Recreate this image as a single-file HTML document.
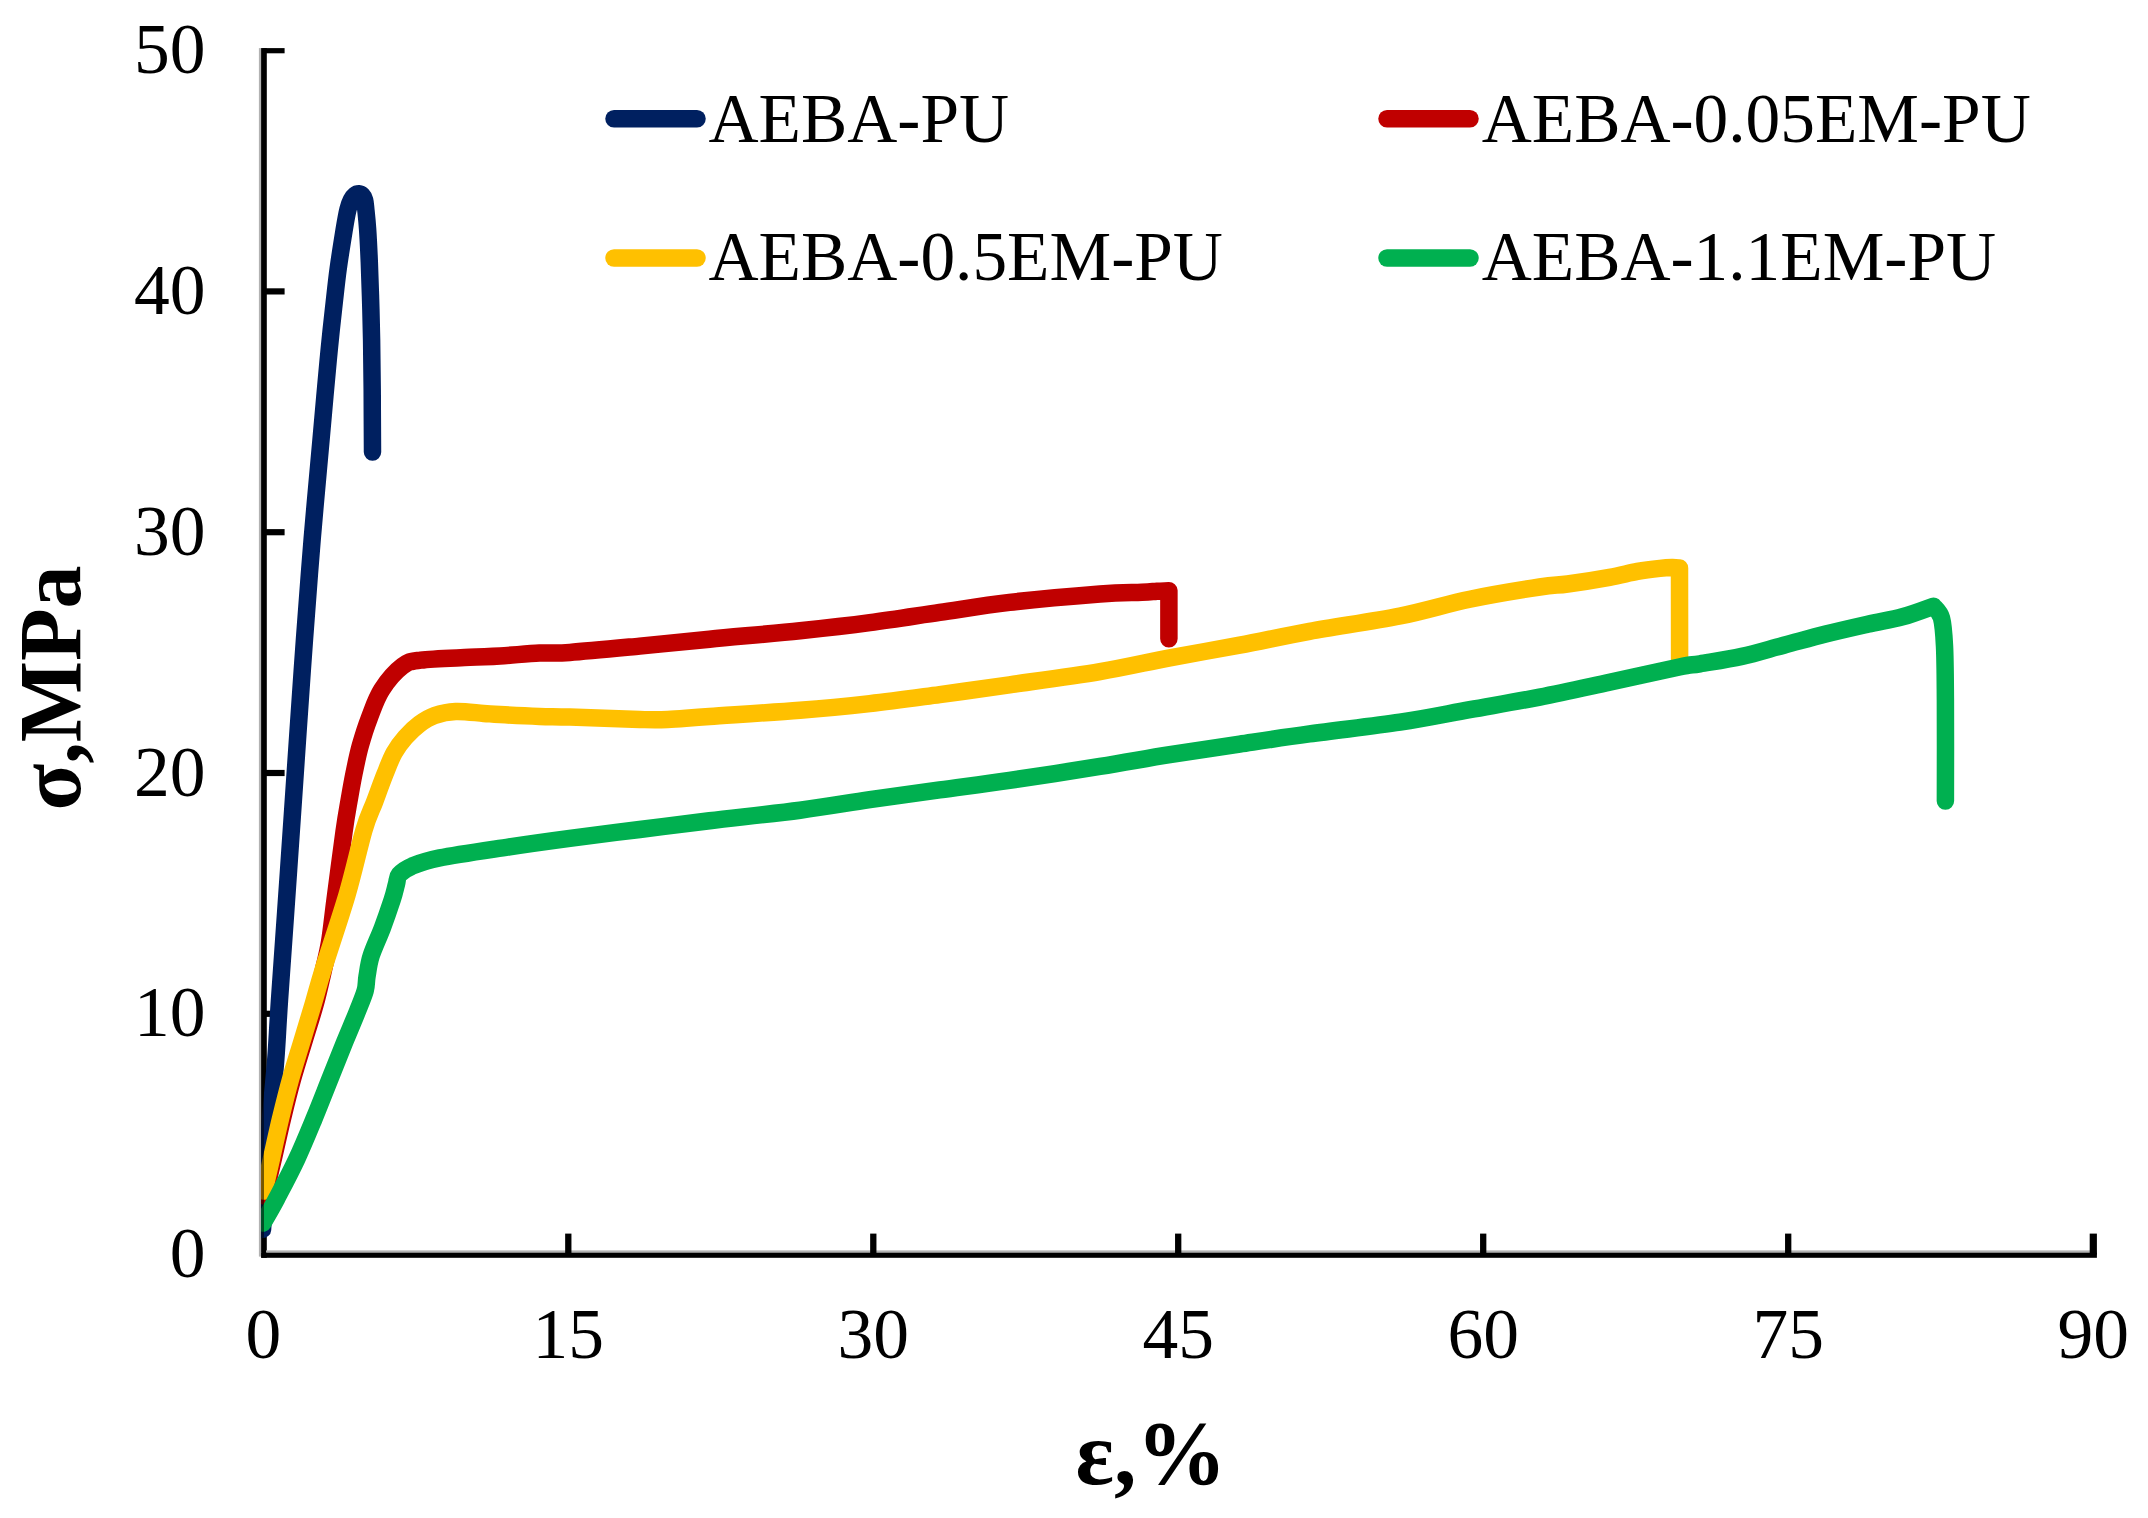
<!DOCTYPE html>
<html lang="en"><head><meta charset="utf-8"><title>Stress-strain curves</title>
<style>html,body{margin:0;padding:0;background:#fff}body{width:2148px;height:1518px;overflow:hidden}svg{display:block}text{font-family:"Liberation Serif","Times New Roman",serif;fill:#000}</style></head><body>
<svg width="2148" height="1518" viewBox="0 0 2148 1518">
<rect width="2148" height="1518" fill="#fff"/>
<defs><clipPath id="plot"><rect x="261.2" y="0" width="1900" height="1258"/></clipPath></defs>
<g fill="#000" stroke="none">
<rect x="258.9" y="48.1" width="2.4" height="1208.5" fill="#b2b2b2"/>
<rect x="261.2" y="48.1" width="5.6" height="1209.7"/>
<rect x="266" y="1250.4" width="1830.9" height="2.4" fill="#b2b2b2"/>
<rect x="261.2" y="1252.7" width="1835.7" height="5.1"/>
</g>
<g stroke="#000" fill="none">
<line x1="263.3" y1="50.7" x2="284.6" y2="50.7" stroke-width="5.2"/>
<line x1="263.3" y1="291.4" x2="284.6" y2="291.4" stroke-width="6.2"/>
<line x1="263.3" y1="532.2" x2="284.6" y2="532.2" stroke-width="6.2"/>
<line x1="263.3" y1="773.0" x2="284.6" y2="773.0" stroke-width="6.2"/>
<line x1="263.3" y1="1013.8" x2="284.6" y2="1013.8" stroke-width="6.2"/>
<line x1="568.3" y1="1233.6" x2="568.3" y2="1254.6" stroke-width="6.3"/>
<line x1="873.3" y1="1233.6" x2="873.3" y2="1254.6" stroke-width="6.3"/>
<line x1="1178.2" y1="1233.6" x2="1178.2" y2="1254.6" stroke-width="6.3"/>
<line x1="1483.2" y1="1233.6" x2="1483.2" y2="1254.6" stroke-width="6.3"/>
<line x1="1788.2" y1="1233.6" x2="1788.2" y2="1254.6" stroke-width="6.3"/>
<line x1="2093.3" y1="1233.6" x2="2093.3" y2="1254.6" stroke-width="7.2"/>
</g>
<g clip-path="url(#plot)" fill="none" stroke-width="17.5" stroke-linecap="round" stroke-linejoin="round">
<path stroke="#002060" d="M262.5,1229.5 C263.9,1211.0 268.4,1147.0 270.6,1118.6 C272.8,1090.2 274.3,1078.8 275.8,1059.0 C277.3,1039.2 277.4,1031.5 279.5,1000.0 C281.6,968.5 285.6,914.2 288.6,870.0 C291.7,825.8 295.1,773.7 297.8,735.0 C300.5,696.3 302.2,670.3 304.6,637.6 C307.0,604.9 309.5,571.7 312.2,538.8 C314.9,505.9 318.8,465.3 321.0,440.0 C323.2,414.7 324.3,402.6 325.7,387.2 C327.1,371.8 328.1,360.8 329.4,347.6 C330.7,334.4 332.1,321.3 333.6,308.1 C335.1,294.9 336.4,281.8 338.2,268.6 C340.0,255.4 342.7,238.9 344.3,229.0 C345.9,219.1 346.8,214.1 348.0,209.3 C349.2,204.5 350.1,202.3 351.3,200.0 C352.5,197.7 353.8,196.2 355.0,195.2 C356.2,194.2 357.6,193.8 358.8,193.8 C360.0,193.9 361.3,194.5 362.3,195.5 C363.3,196.5 364.0,197.7 364.6,200.0 C365.2,202.3 365.3,204.5 365.8,209.3 C366.3,214.1 367.0,220.2 367.6,229.0 C368.2,237.8 368.8,250.2 369.3,262.0 C369.8,273.8 370.2,287.0 370.6,300.0 C371.0,313.0 371.3,325.0 371.6,340.0 C371.9,355.0 372.1,371.3 372.2,390.0 C372.3,408.7 372.4,441.7 372.5,452.0"/>
<path stroke="#C00000" d="M264.5,1196.0 C266.0,1189.7 270.5,1170.9 273.5,1158.0 C276.5,1145.1 279.3,1131.8 282.5,1118.6 C285.7,1105.4 288.9,1092.2 292.6,1079.0 C296.3,1065.8 300.8,1051.8 304.5,1039.5 C308.2,1027.2 311.8,1016.6 315.0,1005.0 C318.2,993.4 321.1,980.2 323.5,969.7 C325.9,959.2 327.7,953.4 329.6,941.7 C331.5,930.1 332.6,918.1 335.0,899.8 C337.4,881.5 341.7,848.4 344.0,832.0 C346.3,815.6 347.2,811.3 348.9,801.6 C350.6,791.9 352.1,782.9 354.0,773.6 C355.9,764.3 357.7,755.0 360.3,745.7 C362.9,736.4 365.8,727.1 369.4,717.8 C373.0,708.5 376.2,698.4 381.7,689.8 C387.2,681.2 396.1,671.0 402.6,666.1 C409.1,661.2 409.6,661.6 420.8,660.1 C432.0,658.6 456.5,658.0 469.7,657.3 C482.9,656.6 488.4,656.6 500.0,655.9 C511.6,655.2 527.9,653.7 539.5,653.1 C551.1,652.5 553.1,653.6 569.8,652.4 C586.5,651.2 616.4,648.3 639.7,646.1 C663.0,643.9 682.8,641.8 709.5,639.2 C736.2,636.6 773.3,633.5 800.0,630.7 C826.7,627.9 846.5,625.7 869.8,622.6 C893.1,619.5 916.4,615.8 939.7,612.4 C963.0,609.0 982.8,605.5 1009.5,602.4 C1036.2,599.3 1077.9,595.7 1100.0,594.0 C1122.1,592.3 1132.4,592.8 1141.9,592.3 C1151.4,591.8 1152.5,591.5 1157.0,591.2 C1161.5,591.0 1166.9,590.9 1168.9,590.8 C1168.9,598.8 1168.9,630.7 1168.9,638.7"/>
<path stroke="#FFC000" d="M264.0,1191.0 C265.3,1185.5 268.9,1170.1 271.6,1158.0 C274.4,1145.9 277.3,1131.8 280.5,1118.6 C283.7,1105.4 286.9,1092.2 290.6,1079.0 C294.3,1065.8 298.7,1052.2 302.5,1039.5 C306.3,1026.8 310.0,1014.8 313.5,1003.0 C317.0,991.2 317.9,986.5 323.5,968.5 C329.1,950.5 340.2,918.1 347.0,895.0 C353.8,871.9 359.4,845.6 364.0,830.0 C368.6,814.4 371.2,811.0 374.7,801.6 C378.2,792.2 381.9,781.8 385.2,773.6 C388.4,765.5 390.8,758.8 394.2,752.7 C397.6,746.7 401.2,742.1 405.4,737.3 C409.6,732.5 414.5,727.7 419.4,724.1 C424.3,720.5 428.6,717.6 434.7,715.5 C440.8,713.4 447.5,711.9 455.7,711.5 C463.9,711.1 476.2,712.9 483.6,713.4 C491.0,713.9 490.7,714.1 500.0,714.6 C509.3,715.1 527.9,716.0 539.5,716.4 C551.1,716.8 553.1,716.6 569.8,717.1 C586.5,717.6 623.4,719.1 639.7,719.5 C656.0,719.9 656.0,720.0 667.6,719.5 C679.2,719.0 687.4,717.9 709.5,716.4 C731.6,714.9 773.3,712.4 800.0,710.3 C826.7,708.2 846.5,706.2 869.8,703.6 C893.1,701.0 916.4,697.7 939.7,694.6 C963.0,691.5 982.8,688.6 1009.5,684.8 C1036.2,681.0 1073.3,676.1 1100.0,671.6 C1126.7,667.1 1146.5,662.2 1169.8,657.8 C1193.1,653.4 1216.4,649.6 1239.7,645.2 C1263.0,640.8 1282.8,636.2 1309.5,631.3 C1336.2,626.4 1373.3,621.4 1400.0,616.0 C1426.7,610.6 1446.5,604.0 1469.8,599.2 C1493.1,594.4 1523.4,589.5 1539.7,587.0 C1556.0,584.5 1556.0,585.6 1567.6,584.0 C1579.2,582.4 1597.9,579.4 1609.5,577.3 C1621.1,575.2 1629.0,572.9 1637.4,571.4 C1645.8,569.9 1654.2,569.0 1660.0,568.4 C1665.8,567.8 1668.8,567.7 1672.0,567.6 C1675.2,567.5 1678.2,567.9 1679.5,568.0 C1679.5,583.5 1679.6,645.5 1679.6,661.0"/>
<path stroke="#00B050" d="M263.0,1223.0 C265.3,1218.9 271.2,1209.1 276.8,1198.4 C282.4,1187.7 290.6,1172.3 296.8,1159.0 C303.0,1145.7 308.6,1131.9 314.1,1118.6 C319.6,1105.3 324.8,1091.8 329.9,1079.0 C335.0,1066.2 340.1,1053.2 344.7,1042.0 C349.3,1030.8 353.9,1020.2 357.3,1011.6 C360.7,1003.0 363.6,996.4 365.2,990.6 C366.8,984.8 366.0,982.4 367.0,976.6 C368.0,970.8 368.6,963.8 371.2,955.7 C373.8,947.6 378.9,937.1 382.4,927.8 C385.9,918.5 389.8,907.1 392.2,899.8 C394.6,892.5 395.3,888.2 396.5,884.0 C397.7,879.8 396.7,877.7 399.2,874.7 C401.7,871.8 404.9,869.1 411.7,866.3 C418.4,863.5 423.4,861.1 439.7,857.9 C456.0,854.6 487.8,850.1 509.5,846.8 C531.2,843.5 548.1,841.2 569.8,838.3 C591.5,835.4 616.4,832.4 639.7,829.5 C663.0,826.6 682.8,824.0 709.5,820.8 C736.2,817.6 773.3,813.7 800.0,810.2 C826.7,806.7 846.5,803.1 869.8,799.7 C893.1,796.3 916.4,793.1 939.7,789.9 C963.0,786.7 982.8,784.3 1009.5,780.4 C1036.2,776.5 1073.3,770.7 1100.0,766.4 C1126.7,762.1 1146.5,758.3 1169.8,754.6 C1193.1,750.9 1216.4,747.6 1239.7,744.1 C1263.0,740.6 1282.8,737.5 1309.5,733.9 C1336.2,730.2 1373.3,726.2 1400.0,722.2 C1426.7,718.2 1446.5,713.9 1469.8,709.7 C1493.1,705.5 1516.4,701.7 1539.7,697.1 C1563.0,692.5 1586.2,687.3 1609.5,682.3 C1632.8,677.3 1664.2,670.1 1679.3,667.0 C1694.4,663.9 1689.6,665.6 1700.0,663.8 C1710.4,662.0 1727.9,659.5 1741.9,656.4 C1755.9,653.3 1769.8,648.9 1783.8,645.2 C1797.8,641.5 1811.7,637.5 1825.7,634.0 C1839.7,630.5 1854.8,627.1 1867.6,624.2 C1880.4,621.3 1891.5,619.8 1902.5,616.8 C1913.5,613.8 1928.3,608.0 1933.5,606.2 C1934.8,608.2 1939.7,611.4 1941.5,618.0 C1943.3,624.6 1943.8,632.3 1944.5,646.0 C1945.2,659.7 1945.2,674.2 1945.4,700.0 C1945.6,725.8 1945.4,784.2 1945.4,801.0"/>
</g>
<rect x="261.2" y="48.1" width="2.8" height="1204" fill="#000" opacity="0.55"/>
<g font-size="71.5" text-anchor="end">
<text transform="translate(205.5,73.1) scale(1.000,1)">50</text>
<text transform="translate(205.5,313.9) scale(1.000,1)">40</text>
<text transform="translate(205.5,554.7) scale(1.000,1)">30</text>
<text transform="translate(205.5,795.5) scale(1.000,1)">20</text>
<text transform="translate(205.5,1036.3) scale(1.000,1)">10</text>
<text transform="translate(205.5,1277.1) scale(1.000,1)">0</text>
</g>
<g font-size="71.5" text-anchor="middle">
<text transform="translate(263.3,1357.5) scale(1.000,1)">0</text>
<text transform="translate(568.3,1357.5) scale(1.000,1)">15</text>
<text transform="translate(873.3,1357.5) scale(1.000,1)">30</text>
<text transform="translate(1178.2,1357.5) scale(1.000,1)">45</text>
<text transform="translate(1483.2,1357.5) scale(1.000,1)">60</text>
<text transform="translate(1788.2,1357.5) scale(1.000,1)">75</text>
<text transform="translate(2093.2,1357.5) scale(1.000,1)">90</text>
</g>
<text x="1151" y="1483.5" font-size="90" font-weight="bold" text-anchor="middle">ε,%</text>
<text transform="translate(80.3,688) rotate(-90) scale(0.975,1)" font-size="88.3" font-weight="bold" text-anchor="middle">σ,MPa</text>
<line x1="614.0" y1="118.8" x2="697.0" y2="118.8" stroke="#002060" stroke-width="17.5" stroke-linecap="round"/>
<text transform="translate(708.5,141.8) scale(1.004,1)" font-size="69.1">AEBA-PU</text>
<line x1="1387.0" y1="118.8" x2="1470.0" y2="118.8" stroke="#C00000" stroke-width="17.5" stroke-linecap="round"/>
<text transform="translate(1481.7,141.8) scale(1.004,1)" font-size="69.1">AEBA-0.05EM-PU</text>
<line x1="614.0" y1="258.0" x2="697.0" y2="258.0" stroke="#FFC000" stroke-width="17.5" stroke-linecap="round"/>
<text transform="translate(708.5,279.5) scale(1.004,1)" font-size="69.1">AEBA-0.5EM-PU</text>
<line x1="1387.0" y1="258.0" x2="1470.0" y2="258.0" stroke="#00B050" stroke-width="17.5" stroke-linecap="round"/>
<text transform="translate(1481.7,279.5) scale(1.004,1)" font-size="69.1">AEBA-1.1EM-PU</text>
</svg></body></html>
